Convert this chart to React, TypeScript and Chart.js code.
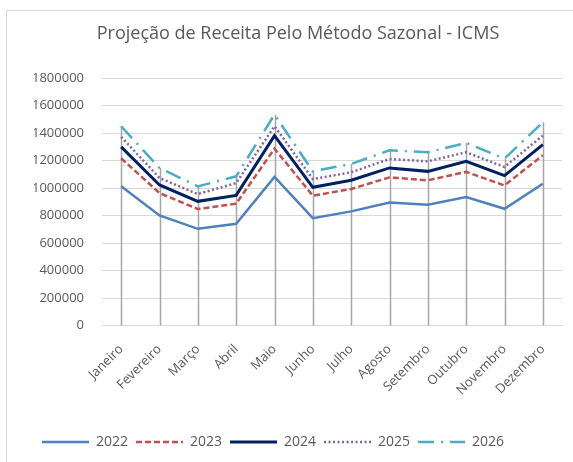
import React, { useEffect, useRef } from "react";
import { Chart, registerables } from "chart.js";

Chart.register(...registerables);

const months = [
  "Janeiro", "Fevereiro", "Março", "Abril", "Maio", "Junho",
  "Julho", "Agosto", "Setembro", "Outubro", "Novembro", "Dezembro",
];
const seriesNames = ["2022", "2023", "2024", "2025", "2026"];
const v2022 = [1012000, 800000, 703000, 740000, 1080000, 781000, 830000, 895000, 878000, 934000, 849000, 1031000];
const v2023 = [1216000, 963000, 847000, 886000, 1286000, 944000, 993000, 1077000, 1056000, 1117000, 1019000, 1238000];
const v2024 = [1299000, 1022000, 903000, 946000, 1381000, 1005000, 1056000, 1146000, 1121000, 1194000, 1090000, 1316000];
const v2025 = [1372000, 1073000, 956000, 1036000, 1449000, 1065000, 1114000, 1211000, 1194000, 1260000, 1153000, 1381000];
const v2026 = [1449000, 1146000, 1012000, 1085000, 1534000, 1121000, 1175000, 1274000, 1260000, 1328000, 1214000, 1478000];
const yMin = 0;
const yMax = 1800000;
const yStep = 200000;
const titleText = "Projeção de Receita Pelo Método Sazonal - ICMS";

const FONT = "'Open Sans', 'Noto Sans', sans-serif";
const TEXT = "#595959";

const dropLines = {
  id: "dropLines",
  beforeDatasetsDraw(chart: any) {
    const { ctx, scales } = chart;
    const x = scales.x;
    const y = scales.y;
    const n = chart.data.labels.length;
    ctx.save();
    ctx.strokeStyle = "#a6a6a6";
    ctx.lineWidth = 1.5;
    for (let i = 0; i < n; i++) {
      const top = Math.max(...chart.data.datasets.map((d: any) => d.data[i]));
      const px = Math.round(x.getPixelForValue(i)) + 0.5;
      ctx.beginPath();
      ctx.moveTo(px, y.getPixelForValue(0));
      ctx.lineTo(px, y.getPixelForValue(top));
      ctx.stroke();
    }
    ctx.restore();
  },
};

export default function App() {
  const ref = useRef<HTMLCanvasElement>(null);
  useEffect(() => {
    if (!ref.current) return;
    const values = [v2022, v2023, v2024, v2025, v2026];
    const colors = ["#4f81bd", "#c0504d", "#002060", "#8064a2", "#4bacc6"];
    const widths = [2.5, 2.5, 3, 2.5, 2.5];
    const dashes = [[], [6, 3], [], [2, 2.5], [16, 7, 2, 7]];
    const chart = new Chart(ref.current, {
      type: "line",
      data: {
        labels: months,
        datasets: seriesNames.map((name, i) => ({
          label: name,
          data: values[i],
          borderColor: colors[i],
          backgroundColor: colors[i],
          borderWidth: widths[i],
          borderDash: dashes[i],
          pointRadius: 0,
          tension: 0,
          fill: false,
        })),
      },
      options: {
        animation: false,
        responsive: false,
        maintainAspectRatio: false,
        layout: { padding: { left: 27, right: 11, top: 0, bottom: 3 } },
        plugins: {
          title: {
            display: true,
            text: titleText,
            color: TEXT,
            font: { family: FONT, size: 18, weight: "normal" },
            padding: { top: 12, bottom: 33.4 },
          },
          legend: {
            position: "bottom",
            align: "start",
            labels: {
              usePointStyle: true,
              pointStyle: "line",
              pointStyleWidth: 47,
              color: TEXT,
              font: { family: FONT, size: 14 },
              padding: 8,
              generateLabels: (c: any) =>
                Chart.defaults.plugins.legend.labels.generateLabels(c).map((l: any, i: number) => ({
                  ...l,
                  pointStyle: "line",
                  lineDash: dashes[i],
                  lineWidth: widths[i],
                  strokeStyle: colors[i],
                  fillStyle: colors[i],
                })),
            },
          },
          tooltip: { enabled: false },
        },
        scales: {
          x: {
            offset: true,
            grid: { display: false, drawTicks: false },
            border: { display: true, color: "#d9d9d9", width: 1 },
            ticks: {
              color: TEXT,
              font: { family: FONT, size: 13 },
              maxRotation: 45,
              minRotation: 45,
              padding: 16,
            },
            afterFit: (s: any) => { s.height = 101.5; },
          },
          y: {
            min: yMin,
            max: yMax,
            grid: { color: "#d9d9d9", lineWidth: 1, drawTicks: false },
            border: { display: false },
            ticks: {
              stepSize: yStep,
              color: TEXT,
              font: { family: FONT, size: 13 },
              padding: 18,
              callback: (v: any) => String(v),
            },
            afterFit: (s: any) => { s.width = 68; },
          },
        },
      },
      plugins: [dropLines],
    });
    return () => chart.destroy();
  }, []);
  return (
    <div
      style={{
        position: "absolute",
        left: 6,
        top: 10,
        width: 567,
        height: 452,
        borderLeft: "1px solid #d9d9d9",
        borderTop: "1px solid #d9d9d9",
        boxSizing: "border-box",
        background: "#fff",
      }}
    >
      <canvas ref={ref} width={566} height={451} style={{ display: "block" }} />
    </div>
  );
}
